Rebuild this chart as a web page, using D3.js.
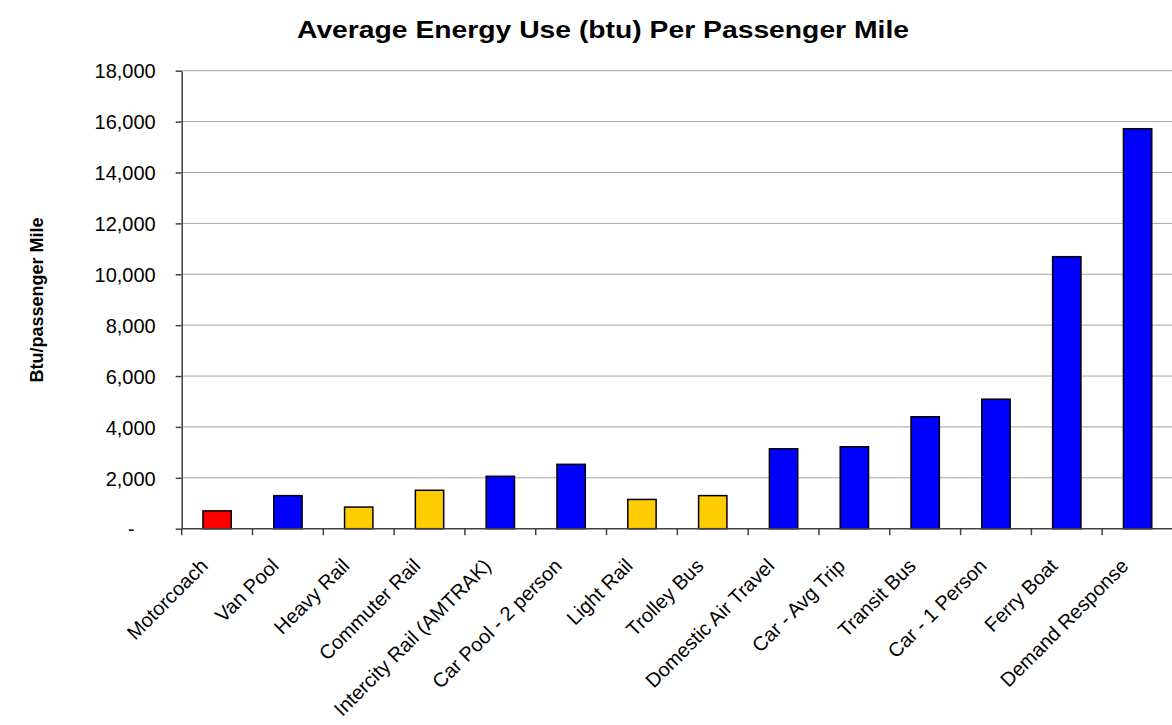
<!DOCTYPE html>
<html>
<head>
<meta charset="utf-8">
<script src="https://cdn.jsdelivr.net/npm/d3@7"></script>
<style>
  body { margin: 0; background: #fff; }
  svg { display: block; font-family: Arial, "Liberation Sans", sans-serif; }
  .grid line { stroke: #a6a6a6; stroke-width: 1; }
  .axis path, .axis line { stroke: #404040; stroke-width: 1.5; }
  .bar { stroke: #000; stroke-width: 1.5; }
</style>
</head>
<body>
<svg width="1172" height="725"></svg>
<script>
// values
var modes = ["Motorcoach", "Van Pool", "Heavy Rail", "Commuter Rail",
  "Intercity Rail (AMTRAK)", "Car Pool - 2 person", "Light Rail", "Trolley Bus",
  "Domestic Air Travel", "Car - Avg Trip", "Transit Bus", "Car - 1 Person",
  "Ferry Boat", "Demand Response"];
var btu = [700, 1300, 850, 1510, 2060, 2530, 1150, 1300, 3140, 3220, 4400, 5090, 10690, 15720];
// group of each mode, decides the bar colour
var groups = ["coach", "road", "rail", "rail", "road", "road", "rail", "rail",
  "road", "road", "road", "road", "road", "road"];
var yTicks = [0, 2000, 4000, 6000, 8000, 10000, 12000, 14000, 16000, 18000];

var colors = { coach: "#FF0000", rail: "#FFCC00", road: "#0000FF" };

const margin = { top: 70.7, right: -1, bottom: 196.3, left: 181.7 },
  width = 1172 - margin.left - margin.right,
  height = 725 - margin.top - margin.bottom;

const svg = d3.select("svg");
const g = svg.append("g")
  .attr("transform", "translate(" + margin.left + "," + margin.top + ")");

var x = d3.scaleBand()
  .domain(modes)
  .range([0, width])
  .paddingInner(0.6)
  .paddingOuter(0.3);

var y = d3.scaleLinear()
  .domain([0, 18000])
  .range([height, 0]);

// horizontal grid lines
g.append("g")
  .attr("class", "grid")
  .selectAll("line")
  .data(yTicks.slice(1))
  .enter().append("line")
  .attr("x1", 0)
  .attr("x2", width)
  .attr("y1", d => y(d))
  .attr("y2", d => y(d));

// bars
g.selectAll("rect.bar")
  .data(modes)
  .enter().append("rect")
  .attr("class", "bar")
  .attr("x", d => x(d))
  .attr("width", x.bandwidth())
  .attr("y", (d, i) => y(btu[i]))
  .attr("height", (d, i) => height - y(btu[i]))
  .style("fill", (d, i) => colors[groups[i]]);

// y axis
var yAxis = g.append("g")
  .attr("class", "axis")
  .call(d3.axisLeft(y)
    .tickValues(yTicks)
    .tickSizeInner(6)
    .tickSizeOuter(0)
    .tickPadding(20)
    .tickFormat(d => d == 0 ? "-" : d3.format(",")(d)));
yAxis.selectAll("text")
  .style("font-size", "20px")
  .style("fill", "#000")
  .attr("dy", "0.36em");
// accounting style dash sits two digits left
yAxis.selectAll(".tick").filter(d => d == 0).select("text")
  .attr("x", -47);

// x axis: ticks on category boundaries
var xAxisG = g.append("g")
  .attr("class", "axis")
  .attr("transform", "translate(0," + height + ")");
xAxisG.append("line")
  .attr("x1", 0)
  .attr("x2", width);
xAxisG.selectAll("line.tick")
  .data(modes)
  .enter().append("line")
  .attr("class", "tick")
  .attr("x1", d => x(d) - x.step() * 0.3)
  .attr("x2", d => x(d) - x.step() * 0.3)
  .attr("y1", 0)
  .attr("y2", 6.5);

xAxisG.selectAll("text")
  .data(modes)
  .enter().append("text")
  .attr("text-anchor", "end")
  .attr("transform", function (d) {
    var cx = x(d) + x.bandwidth() / 2 - 8;
    return "translate(" + cx + ",38.5) rotate(-45)";
  })
  .style("font-size", "20px")
  .text(d => d);

// titles
svg.append("text")
  .attr("x", 603)
  .attr("y", 38)
  .attr("text-anchor", "middle")
  .attr("textLength", 612)
  .attr("lengthAdjust", "spacingAndGlyphs")
  .style("font-size", "24px")
  .style("font-weight", "bold")
  .text("Average Energy Use (btu) Per Passenger Mile");

svg.append("text")
  .attr("transform", "translate(43,300) rotate(-90)")
  .attr("text-anchor", "middle")
  .style("font-size", "18px")
  .style("font-weight", "bold")
  .text("Btu/passenger Mile");
</script>
</body>
</html>
